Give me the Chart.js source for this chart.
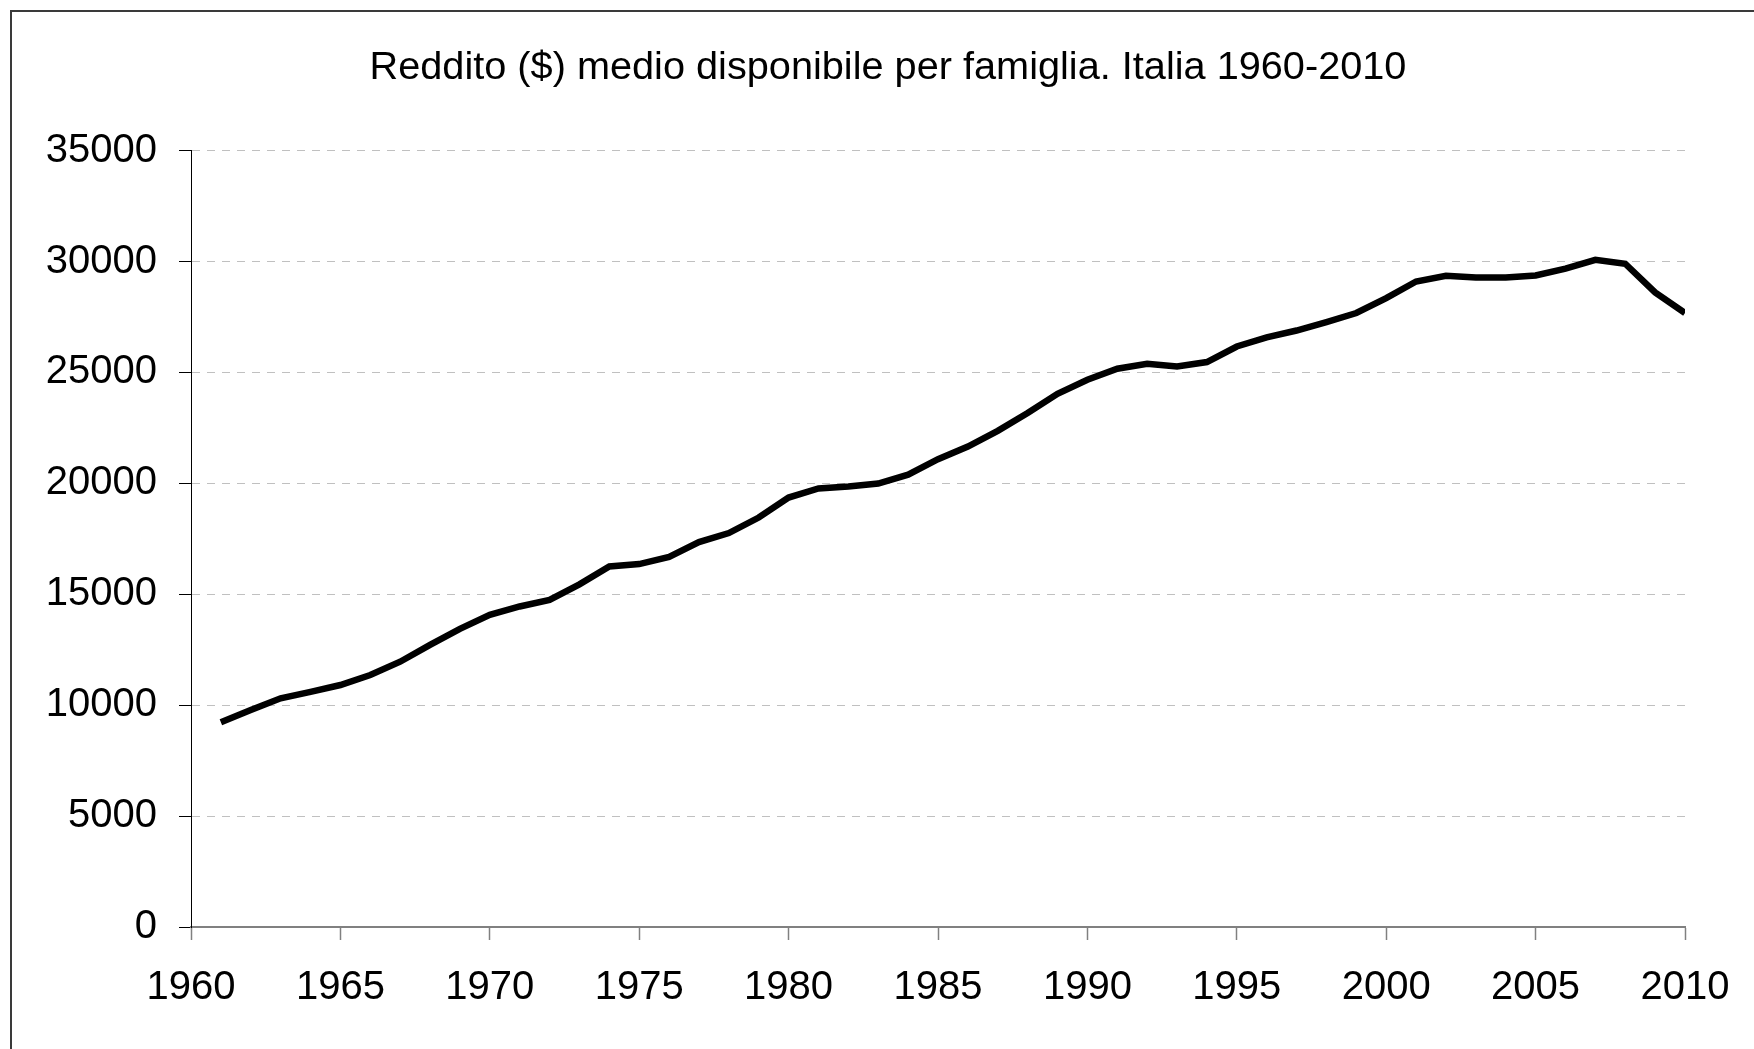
<!DOCTYPE html>
<html>
<head>
<meta charset="utf-8">
<script src="https://cdn.jsdelivr.net/npm/chart.js@4/dist/chart.umd.min.js"></script>
<style>
  html, body { margin: 0; padding: 0; background: #ffffff; }
  #wrap { width: 1754px; height: 1049px; position: relative; }
</style>
</head>
<body>
<div id="wrap"><canvas id="c" width="1754" height="1049"></canvas></div>
<script>
const titleText = 'Reddito ($) medio disponibile per famiglia. Italia 1960-2010';
const years = [1961,1962,1963,1964,1965,1966,1967,1968,1969,1970,
               1971,1972,1973,1974,1975,1976,1977,1978,1979,1980,
               1981,1982,1983,1984,1985,1986,1987,1988,1989,1990,
               1991,1992,1993,1994,1995,1996,1997,1998,1999,2000,
               2001,2002,2003,2004,2005,2006,2007,2008,2009,2010];
const income = [9230,9780,10310,10600,10910,11360,11960,12720,13440,14070,
                14450,14750,15450,16250,16360,16680,17350,17760,18460,19360,
                19770,19860,19990,20390,21090,21660,22370,23170,24040,24670,
                25170,25390,25270,25470,26170,26580,26890,27270,27680,28350,
                29100,29360,29280,29280,29370,29680,30080,29900,28610,27680];
const xTickValues = [1960,1965,1970,1975,1980,1985,1990,1995,2000,2005,2010];
const yTickValues = [0,5000,10000,15000,20000,25000,30000,35000];

const points = years.map((y, i) => ({x: y, y: income[i]}));
const FONT = '"Liberation Sans", Arial, Helvetica, sans-serif';

const framePlugin = {
  id: 'frame',
  beforeDraw(chart) {
    const ctx = chart.ctx;
    ctx.save();
    ctx.fillStyle = '#ffffff';
    ctx.fillRect(0, 0, chart.width, chart.height);
    ctx.strokeStyle = '#3a3a3a';
    ctx.lineWidth = 2;
    ctx.beginPath();
    ctx.moveTo(11, chart.height + 5);
    ctx.lineTo(11, 11);
    ctx.lineTo(chart.width + 5, 11);
    ctx.stroke();
    ctx.restore();
  }
};

new Chart(document.getElementById('c'), {
  type: 'line',
  data: {
    datasets: [{
      data: points,
      borderColor: '#000000',
      borderWidth: 6.5,
      borderJoinStyle: 'miter',
      borderCapStyle: 'butt',
      pointRadius: 0,
      tension: 0,
      fill: false
    }]
  },
  options: {
    responsive: false,
    animation: false,
    devicePixelRatio: 1,
    layout: { padding: { left: 22, right: 0, top: 0, bottom: 0 } },
    plugins: {
      legend: { display: false },
      tooltip: { enabled: false },
      title: {
        display: true,
        text: titleText,
        color: '#000000',
        font: { family: FONT, size: 39.7, weight: 'normal' },
        padding: { top: 44, bottom: 59 }
      }
    },
    scales: {
      x: {
        type: 'linear',
        min: 1960,
        max: 2010,
        afterBuildTicks(s) { s.ticks = xTickValues.map(v => ({value: v})); },
        afterFit(s) { s.height = 122; },
        ticks: {
          color: '#000000',
          font: { family: FONT, size: 40 },
          padding: 24,
          maxRotation: 0,
          autoSkip: false,
          callback: v => String(v)
        },
        grid: {
          drawOnChartArea: false,
          drawTicks: true,
          tickLength: 13,
          tickColor: '#808080',
          tickWidth: 1.5
        },
        border: { display: true, color: '#808080', width: 2 }
      },
      y: {
        type: 'linear',
        min: 0,
        max: 35000,
        afterBuildTicks(s) { s.ticks = yTickValues.map(v => ({value: v})); },
        afterFit(s) { s.width = 169; },
        ticks: {
          color: '#000000',
          font: { family: FONT, size: 40 },
          padding: 22,
          callback: v => String(v)
        },
        grid: {
          color: '#c0c0c0',
          lineWidth: 1,
          drawTicks: true,
          tickLength: 12,
          tickColor: '#000000',
          tickWidth: 1,
          tickBorderDash: []
        },
        border: { display: true, color: '#000000', width: 1, dash: [8, 7] }
      },
      yRight: {
        type: 'linear',
        position: 'right',
        display: true,
        afterFit(s) { s.width = 69; },
        ticks: { display: false },
        grid: { display: false, drawTicks: false },
        border: { display: false }
      }
    }
  },
  plugins: [framePlugin]
});
</script>
</body>
</html>
